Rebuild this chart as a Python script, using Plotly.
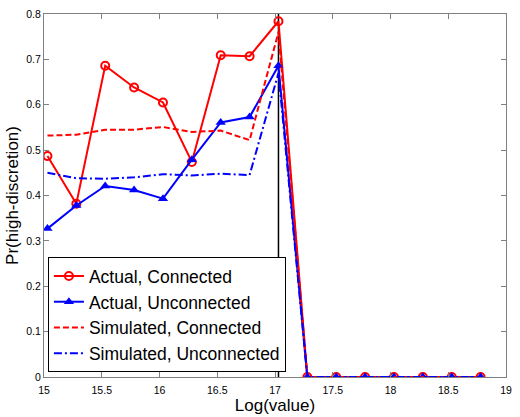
import plotly.graph_objects as go

# ---- data ----
log_value = [15.03, 15.28, 15.53, 15.78, 16.03, 16.28, 16.53, 16.78, 17.03,
             17.28, 17.53, 17.78, 18.03, 18.28, 18.53, 18.78]
actual_connected = [0.487, 0.382, 0.686, 0.638, 0.605, 0.474, 0.709, 0.707, 0.784,
                    0, 0, 0, 0, 0, 0, 0]
actual_unconnected = [0.327, 0.378, 0.421, 0.412, 0.393, 0.479, 0.561, 0.573, 0.686,
                      0, 0, 0, 0, 0, 0, 0]
simulated_connected = [0.532, 0.534, 0.545, 0.545, 0.551, 0.540, 0.543, 0.522, 0.760,
                       0, 0, 0, 0, 0, 0, 0]
simulated_unconnected = [0.450, 0.438, 0.437, 0.440, 0.447, 0.444, 0.448, 0.445, 0.670,
                         0, 0, 0, 0, 0, 0, 0]
cutoff = [17.03]
x_ticks = [15, 15.5, 16, 16.5, 17, 17.5, 18, 18.5, 19]
y_ticks = [0, 0.1, 0.2, 0.3, 0.4, 0.5, 0.6, 0.7, 0.8]
y_tick_text = ["0", "0.1", "0.2", "0.3", "0.4", "0.5", "0.6", "0.7", "0.8"]

RED = "#ff0000"
BLUE = "#0000ff"
FONT = "Liberation Sans, Arial, sans-serif"

fig = go.Figure()
fig.add_trace(go.Scatter(
    x=log_value, y=actual_connected, name="Actual, Connected",
    mode="lines+markers",
    line=dict(color=RED, width=2),
    marker=dict(symbol="circle-open", size=8, color=RED, line=dict(width=2, color=RED)),
))
fig.add_trace(go.Scatter(
    x=log_value, y=actual_unconnected, name="Actual, Unconnected",
    mode="lines+markers",
    line=dict(color=BLUE, width=2),
    marker=dict(symbol="triangle-up", size=9, color=BLUE),
))
fig.add_trace(go.Scatter(
    x=log_value, y=simulated_connected, name="Simulated, Connected",
    mode="lines",
    line=dict(color=RED, width=2, dash="6px,3px"),
))
fig.add_trace(go.Scatter(
    x=log_value, y=simulated_unconnected, name="Simulated, Unconnected",
    mode="lines",
    line=dict(color=BLUE, width=2, dash="8px,3px,2px,3px"),
))

for c in cutoff:
    fig.add_shape(type="line", x0=c, x1=c, y0=0, y1=0.8, xref="x", yref="y",
                  line=dict(color="black", width=1.5), layer="below")

axis_common = dict(
    showline=True, linecolor="#808080", linewidth=1, mirror="ticks",
    ticks="inside", ticklen=5, tickcolor="#808080",
    showgrid=False, zeroline=False,
    tickfont=dict(family=FONT, size=10.5, color="black"),
)

fig.update_layout(
    width=520, height=417,
    margin=dict(l=44, r=8, t=8, b=38),
    paper_bgcolor="white", plot_bgcolor="white",
    font=dict(family=FONT, color="black"),
    showlegend=True,
    legend=dict(
        x=0.0085, y=0.0135, xanchor="left", yanchor="bottom",
        bgcolor="white", bordercolor="black", borderwidth=1,
        font=dict(family=FONT, size=17.5, color="black"),
        tracegroupgap=0, itemwidth=30,
    ),
    xaxis=dict(range=[15, 19], tickvals=x_ticks, ticklabelstandoff=3,
               title=dict(text="Log(value)", font=dict(family=FONT, size=17), standoff=2),
               **axis_common),
    yaxis=dict(range=[0, 0.8], tickvals=y_ticks, ticktext=y_tick_text,
               title=dict(text="Pr(high-discretion)", font=dict(family=FONT, size=17), standoff=3),
               **axis_common),
)

fig.write_html("out.html")
